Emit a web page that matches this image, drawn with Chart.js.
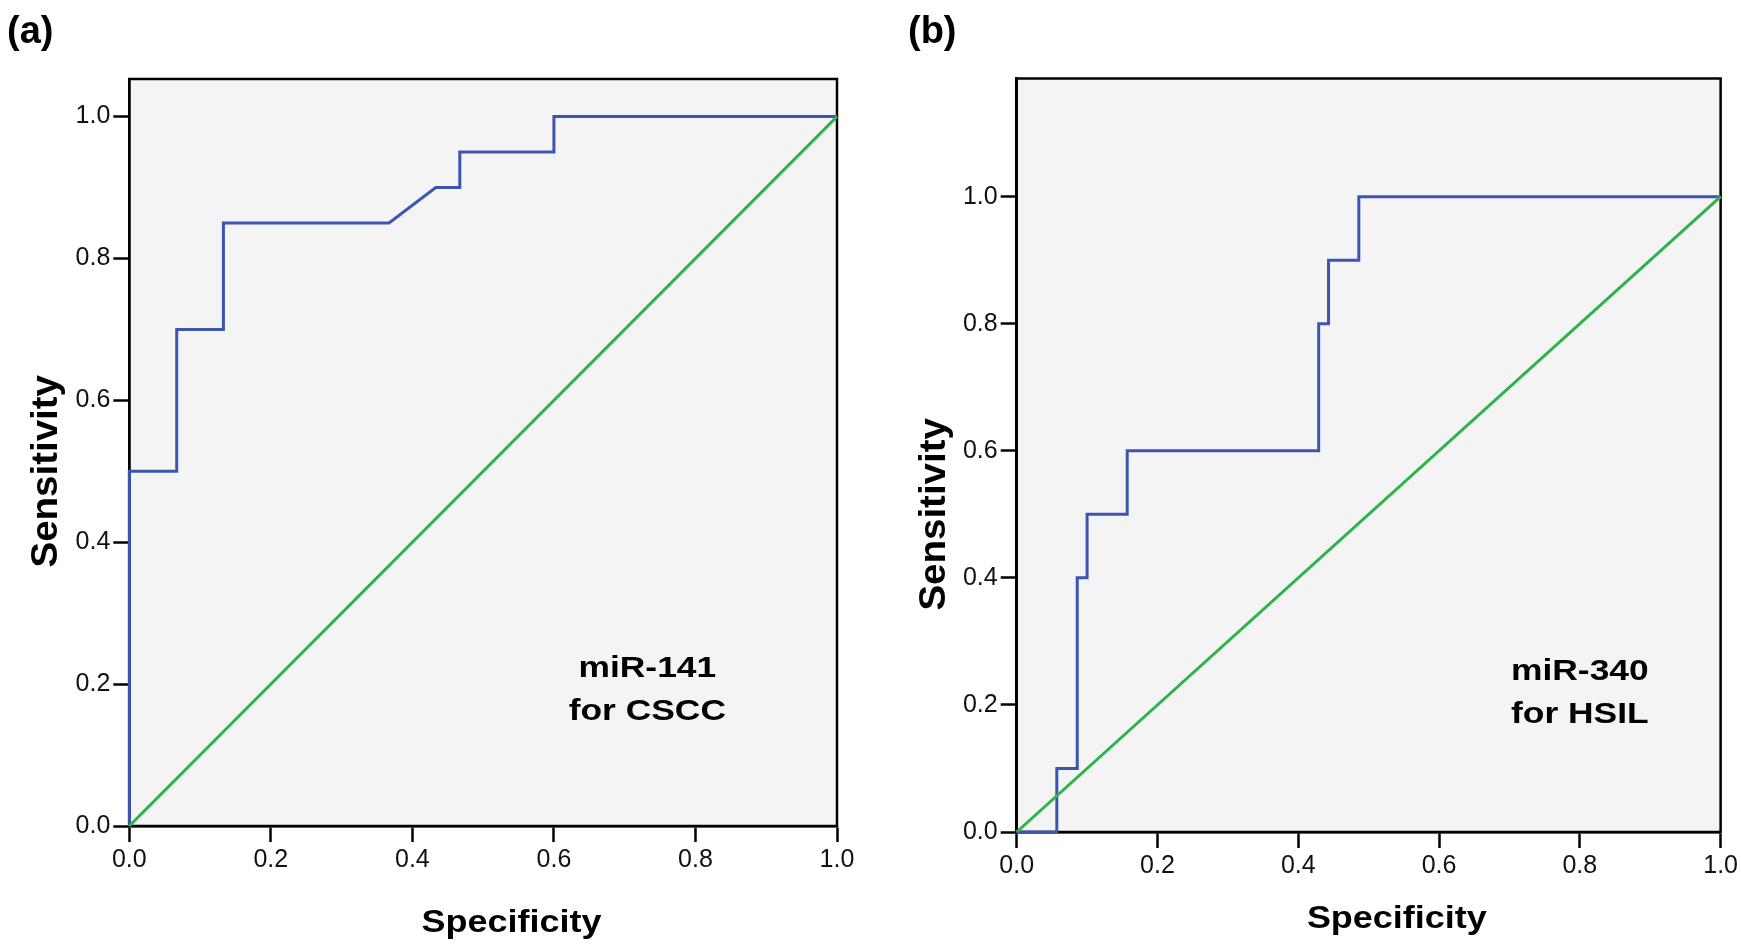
<!DOCTYPE html>
<html>
<head>
<meta charset="utf-8">
<script src="https://cdn.jsdelivr.net/npm/chart.js@4/dist/chart.umd.min.js"></script>
<style>
  html, body { margin: 0; padding: 0; background: #fff; }
  #wrap { position: relative; width: 1741px; height: 945px; }
  canvas { position: absolute; top: 0; }
</style>
</head>
<body>
<div id="wrap">
  <canvas id="rocA" width="870" height="945" style="left:0"></canvas>
  <canvas id="rocB" width="871" height="945" style="left:870px"></canvas>
</div>
<script>
// panel (a): miR-141 for CSCC
const specA = [0, 0, 0.067, 0.067, 0.133, 0.133, 0.367, 0.433, 0.467, 0.467, 0.6, 0.6, 1];
const sensA = [0, 0.5, 0.5, 0.7, 0.7, 0.85, 0.85, 0.9, 0.9, 0.95, 0.95, 1, 1];

// panel (b): miR-340 for HSIL
const specB = [0, 0.057, 0.057, 0.086, 0.086, 0.1, 0.1, 0.157, 0.157, 0.429, 0.429, 0.443, 0.443, 0.486, 0.486, 1];
const sensB = [0, 0, 0.1, 0.1, 0.4, 0.4, 0.5, 0.5, 0.6, 0.6, 0.8, 0.8, 0.9, 0.9, 1, 1];

// reference diagonal
const refX = [0, 1];
const refY = [0, 1];

const tickVals = [0, 0.2, 0.4, 0.6, 0.8, 1.0];
const yMaxA = 1.053;
const yMaxB = 1.186;

const FONT = '"Liberation Sans", Arial, Helvetica, sans-serif';
const BLUE = '#3C55B1';
const GREEN = '#2EB34A';

const toPts = (xs, ys) => xs.map((x, i) => ({ x: x, y: ys[i] }));

// text drawn a bit wider than the font, like the original export
function wideText(c, t, x, y, sx) {
  c.save();
  c.translate(x, y);
  c.scale(sx, 1);
  c.fillText(t, 0, 0);
  c.restore();
}

// plot background + frame, then the labels
const panelPlugin = {
  id: 'panel',
  beforeDraw(chart) {
    const a = chart.chartArea, c = chart.ctx;
    c.save();
    c.fillStyle = '#F4F4F4';
    c.fillRect(a.left, a.top, a.right - a.left, a.bottom - a.top);
    c.restore();
  },
  beforeDatasetsDraw(chart) {
    const a = chart.chartArea, c = chart.ctx;
    c.save();
    c.strokeStyle = '#000';
    c.lineWidth = 2.5;
    c.strokeRect(a.left, a.top, a.right - a.left, a.bottom - a.top);
    c.restore();
  },
  afterDraw(chart, args, o) {
    const a = chart.chartArea, c = chart.ctx;
    const xs = chart.scales.x, ys = chart.scales.y;
    c.save();
    c.fillStyle = '#000';
    c.textBaseline = 'alphabetic';

    // panel letter
    c.font = 'bold 38px ' + FONT;
    c.textAlign = 'left';
    c.fillText(o.letter, o.letterX, 43);

    c.textAlign = 'center';
    // x title
    c.font = 'bold 31px ' + FONT;
    wideText(c, 'Specificity', xs.getPixelForValue(0.54), a.bottom + o.xTitleGap, 1.16);

    // note inside plot
    c.font = 'bold 30px ' + FONT;
    const nx = xs.getPixelForValue(o.noteX), ny = ys.getPixelForValue(o.noteY);
    o.note.forEach((t, i) => wideText(c, t, nx, ny + i * 43, 1.18));

    // y title, rotated
    c.font = 'bold 37px ' + FONT;
    c.translate(a.left - 72, ys.getPixelForValue(0.5));
    c.rotate(-Math.PI / 2);
    wideText(c, 'Sensitivity', 0, 0, 1.04);
    c.restore();
  }
};

function makeRoc(id, xs, ys, yMax, yWidth, xHeight, pad, labels) {
  return new Chart(document.getElementById(id), {
    type: 'scatter',
    data: {
      datasets: [
        { data: toPts(refX, refY), borderColor: GREEN, borderWidth: 3 },
        { data: toPts(xs, ys), borderColor: BLUE, borderWidth: 3 }
      ]
    },
    options: {
      responsive: false,
      animation: false,
      showLine: true,
      elements: { point: { radius: 0 }, line: { tension: 0, fill: false } },
      datasets: { scatter: { clip: false } },
      layout: { padding: pad },
      plugins: { legend: { display: false }, tooltip: { enabled: false }, panel: labels },
      scales: {
        x: {
          type: 'linear', min: 0, max: 1,
          afterBuildTicks: s => { s.ticks = tickVals.map(v => ({ value: v })); },
          afterFit: s => { s.height = xHeight; },
          border: { display: true, color: '#000', width: 2.5 },
          grid: { drawOnChartArea: false, drawTicks: true, tickLength: 16, tickWidth: 2.5, tickColor: '#000' },
          ticks: { color: '#111', font: { family: FONT, size: 25 }, padding: 3, maxRotation: 0,
                   callback: v => v.toFixed(1) }
        },
        y: {
          type: 'linear', min: 0, max: yMax,
          afterBuildTicks: s => { s.ticks = tickVals.map(v => ({ value: v })); },
          afterFit: s => { s.width = yWidth; },
          border: { display: true, color: '#000', width: 2.5 },
          grid: { drawOnChartArea: false, drawTicks: true, tickLength: 16, tickWidth: 2.5, tickColor: '#000' },
          ticks: { color: '#111', font: { family: FONT, size: 25 }, padding: 3,
                   callback: v => v.toFixed(1) }
        }
      }
    },
    plugins: [panelPlugin]
  });
}

makeRoc('rocA', specA, sensA, yMaxA, 129.3, 119,
  { left: 0, top: 79, right: 33, bottom: 0 },
  { letter: '(a)', letterX: 7, xTitleGap: 106, note: ['miR-141', 'for CSCC'], noteX: 0.732, noteY: 0.21 });

makeRoc('rocB', specB, sensB, yMaxB, 146.7, 113,
  { left: 0, top: 78.5, right: 19.7, bottom: 0 },
  { letter: '(b)', letterX: 38, xTitleGap: 96, note: ['miR-340', 'for HSIL'], noteX: 0.80, noteY: 0.239 });
</script>
</body>
</html>
